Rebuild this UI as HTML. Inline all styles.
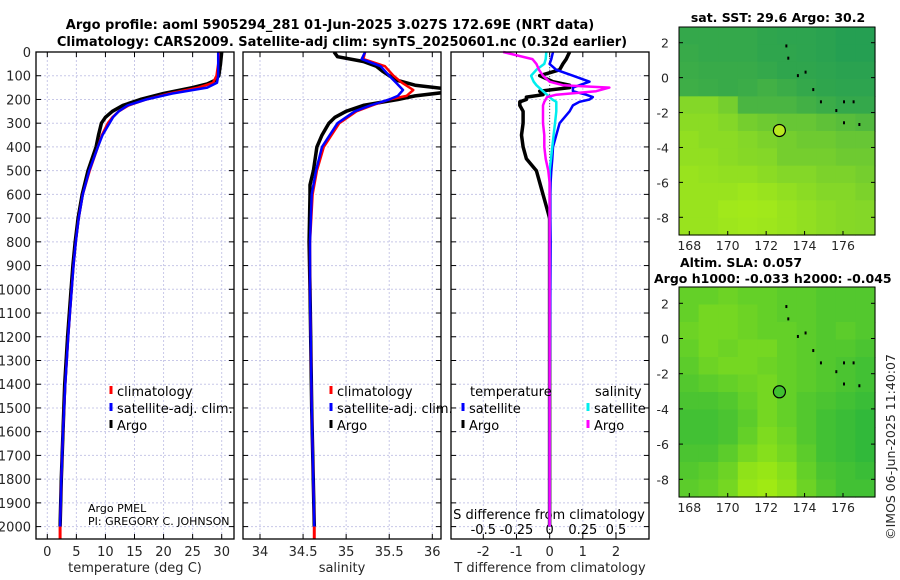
<!DOCTYPE html>
<html><head><meta charset="utf-8"><style>
html,body{margin:0;padding:0;background:#fff}
svg{display:block;font-family:"DejaVu Sans","Liberation Sans",sans-serif}
</style></head><body>
<svg id="c" width="900" height="580" viewBox="0 0 900 580" xmlns="http://www.w3.org/2000/svg">
<text x="330" y="29" text-anchor="middle" font-size="13" font-weight="bold">Argo profile: aoml 5905294_281 01-Jun-2025 3.027S 172.69E (NRT data)</text>
<text x="342" y="46" text-anchor="middle" font-size="13" font-weight="bold">Climatology: CARS2009. Satellite-adj clim: synTS_20250601.nc (0.32d earlier)</text>
<g id="g"></g>
</svg>
<script>
// ---- data ----
const depthTicks=[0,100,200,300,400,500,600,700,800,900,1000,1100,1200,1300,1400,1500,1600,1700,1800,1900,2000];
const tTicks=[0,5,10,15,20,25,30];
const sTicks=[34,34.5,35,35.5,36];
const dTTicks=[-2,-1,0,1,2];
const dTLabels=["-2","-1","0","1","2"];
const dSLabels=["-0.5","-0.25","0","0.25","0.5"];
const argoTDepth=[0,50,100,120,135,150,175,200,225,250,275,300,350,400,500,600,700,800,900,1000,1200,1400,1600,1800,2000];
const argoT=[30,29.8,29.5,28.8,27.5,25,20,16,13,11.2,10,9.3,8.8,8.4,7,6,5.3,4.8,4.4,4.1,3.5,3.0,2.7,2.4,2.2];
const climTDepth=[0,50,100,130,150,175,200,225,250,275,300,350,400,500,600,700,800,900,1000,1200,1400,1600,1800,2000];
const climT=[29.5,29.4,29.1,28.5,26,21,17,14,12.3,11.2,10.4,9.4,8.7,7.3,6.1,5.4,4.9,4.5,4.2,3.6,3.1,2.7,2.4,2.2];
const satT=[29.4,29.4,29.4,29.2,27.5,21.5,17,13.8,12.3,11.3,10.7,9.5,8.7,7.2,6.1,5.4,4.9,4.5,4.2,3.6,3.1,2.7,2.4,2.2];
const argoSDepth=[0,20,40,60,80,100,120,140,155,170,185,200,225,250,275,300,350,400,500,560,600,800,1000,1500,2000];
const argoS=[34.86,34.9,35.2,35.35,35.42,35.5,35.6,35.8,36.15,36.15,35.8,35.6,35.2,35.0,34.87,34.8,34.72,34.66,34.62,34.58,34.58,34.57,34.58,34.6,34.63];
const climSDepth=[0,30,60,100,130,160,185,200,225,250,300,400,500,600,800,1000,1500,2000];
const climS=[35.22,35.2,35.45,35.55,35.65,35.78,35.7,35.5,35.3,35.12,34.92,34.74,34.66,34.61,34.58,34.58,34.6,34.63];
const satS=[35.22,35.18,35.4,35.5,35.58,35.66,35.6,35.5,35.28,35.1,34.9,34.72,34.65,34.6,34.58,34.58,34.6,34.63];
const dDepth=[0,30,50,75,100,125,140,150,165,180,190,200,210,225,250,300,350,400,450,500,550,600,650,700,800,1000,1500,2000];
const dTSat=[0.1,0.05,0,0.2,0.7,1.2,0.9,0.7,0.7,1.1,1.3,1.2,0.9,0.7,0.6,0.3,0.2,0.1,0.08,0.05,0.03,0.02,0.02,0.02,0.03,0.02,0,0];
const dTArgo=[0.6,0.5,0.4,0.3,-0.3,0.1,0.6,0.6,-0.3,-0.2,-0.7,-0.7,-0.9,-0.9,-0.8,-0.8,-0.85,-0.8,-0.7,-0.4,-0.3,-0.2,-0.1,0,0,0,0,0];
const dSSat=[-0.025,-0.03,-0.04,-0.1,-0.14,-0.12,-0.1,-0.08,-0.05,-0.02,0,0.02,0.05,0.05,0.05,0.04,0.03,0.02,0.01,0,0,0,0,0,0,0,0,0];
const dSArgo=[-0.35,-0.13,-0.1,-0.08,-0.05,0,0.1,0.45,0.35,0.05,-0.02,-0.03,-0.04,-0.05,-0.05,-0.05,-0.04,-0.04,-0.03,-0.01,0,0,0,0,0,0,0,0];
const lonTicks=[168,170,172,174,176];
const latTicks=[2,0,-2,-4,-6,-8];
const sstGrid=[
[0.15,0.15,0.15,0.15,0.12,0.1,0.1,0.08,0.05,0.05],
[0.18,0.15,0.15,0.15,0.12,0.12,0.1,0.08,0.05,0.05],
[0.2,0.18,0.18,0.18,0.15,0.12,0.12,0.1,0.08,0.08],
[0.22,0.2,0.18,0.2,0.25,0.2,0.15,0.12,0.1,0.1],
[0.7,0.7,0.6,0.3,0.3,0.3,0.25,0.2,0.15,0.15],
[0.75,0.75,0.7,0.6,0.55,0.5,0.5,0.45,0.4,0.35],
[0.8,0.75,0.75,0.7,0.65,0.6,0.55,0.55,0.5,0.5],
[0.8,0.8,0.75,0.72,0.7,0.6,0.6,0.6,0.55,0.55],
[0.85,0.82,0.8,0.8,0.75,0.7,0.7,0.65,0.65,0.6],
[0.85,0.85,0.85,0.88,0.85,0.8,0.75,0.7,0.7,0.65],
[0.85,0.85,0.9,0.92,0.9,0.85,0.8,0.75,0.72,0.7],
[0.85,0.85,0.88,0.9,0.88,0.85,0.8,0.75,0.72,0.7]];
const slaGrid=[
[0.5,0.5,0.55,0.5,0.5,0.45,0.45,0.4,0.4,0.4],
[0.5,0.6,0.6,0.55,0.5,0.45,0.45,0.4,0.4,0.4],
[0.55,0.6,0.6,0.55,0.5,0.5,0.45,0.4,0.45,0.4],
[0.5,0.6,0.55,0.6,0.6,0.5,0.45,0.4,0.4,0.35],
[0.45,0.55,0.6,0.6,0.55,0.5,0.45,0.4,0.35,0.3],
[0.4,0.45,0.5,0.55,0.6,0.5,0.45,0.4,0.35,0.3],
[0.35,0.35,0.4,0.5,0.6,0.5,0.4,0.35,0.3,0.25],
[0.3,0.3,0.35,0.45,0.6,0.5,0.4,0.3,0.25,0.2],
[0.3,0.3,0.35,0.5,0.65,0.55,0.4,0.3,0.25,0.2],
[0.35,0.35,0.45,0.6,0.7,0.6,0.45,0.3,0.25,0.2],
[0.4,0.45,0.55,0.75,0.8,0.7,0.5,0.35,0.3,0.25],
[0.45,0.5,0.6,0.8,0.85,0.75,0.55,0.4,0.3,0.3]];
const argoLon=172.69, argoLat=-3.027;

// ---- drawing ----
const NS="http://www.w3.org/2000/svg";
const G=document.getElementById('g');
function mk(tag,attrs,parent){const e=document.createElementNS(NS,tag);for(const k in attrs)e.setAttribute(k,attrs[k]);(parent||G).appendChild(e);return e;}
function txt(s,x,y,attrs,parent){const e=mk('text',Object.assign({x:x,y:y,'font-size':13},attrs||{}),parent);e.textContent=s;return e;}
const TOP=52, BOT=539;
const yD=d=>52+d*0.2373;
function lin(d0,d1,p0,p1){return v=>p0+(v-d0)*(p1-p0)/(d1-d0);}
const xT=lin(0,30,47.3,221.7);
const xS=lin(34,36,260,432.3);
const xDT=lin(-2,2,483.3,616);
const xDS=v=>xDT(v*4);
const panels=[{x0:36,x1:234,name:'temperature-panel'},{x0:243,x1:441,name:'salinity-panel'},{x0:451,x1:649,name:'difference-panel'}];
const vgrid=[tTicks.map(xT),sTicks.map(xS),dTTicks.map(xDT)];
panels.forEach((p,i)=>{
  const g=mk('g',{});
  
  
  depthTicks.forEach(d=>{mk('line',{x1:p.x0,x2:p.x1,y1:yD(d),y2:yD(d),stroke:'#c8c8e8','stroke-width':1,'stroke-dasharray':'2,2'},g);});
  vgrid[i].forEach(x=>{mk('line',{x1:x,x2:x,y1:TOP,y2:BOT,stroke:'#c8c8e8','stroke-width':1,'stroke-dasharray':'2,2'},g);});
  depthTicks.forEach(d=>{mk('line',{x1:p.x0,x2:p.x0+5,y1:yD(d),y2:yD(d),stroke:'#000'},g);mk('line',{x1:p.x1-5,x2:p.x1,y1:yD(d),y2:yD(d),stroke:'#000'},g);});
  vgrid[i].forEach(x=>{mk('line',{x1:x,x2:x,y1:BOT,y2:BOT-5,stroke:'#000'},g);mk('line',{x1:x,x2:x,y1:TOP,y2:TOP+5,stroke:'#000'},g);});
});
depthTicks.forEach(d=>{const t=txt(String(d),31,yD(d)+5,{'text-anchor':'end','fill':'#262626'});});
tTicks.forEach(v=>{const t=txt(String(v),xT(v),556,{'text-anchor':'middle','fill':'#262626'});});
sTicks.forEach(v=>{const t=txt(String(v),xS(v),556,{'text-anchor':'middle','fill':'#262626'});});
dTTicks.forEach((v,i)=>{const t=txt(dTLabels[i],xDT(v),556,{'text-anchor':'middle','fill':'#262626'});});
dTTicks.forEach((v,i)=>{const t=txt(dSLabels[i],xDT(v),534,{'text-anchor':'middle','fill':'#000'});});
let t;
t=txt('temperature (deg C)',135,572,{'text-anchor':'middle','fill':'#262626'});
t=txt('salinity',342,572,{'text-anchor':'middle','fill':'#262626'});
t=txt('T difference from climatology',550,572,{'text-anchor':'middle','fill':'#262626'});
t=txt('S difference from climatology',549,519,{'text-anchor':'middle'});
mk('line',{x1:xDT(0),x2:xDT(0),y1:TOP,y2:BOT,stroke:'#555','stroke-dasharray':'1,2'});
function line(xs,ds,xf,col,w,name){const p=mk('polyline',{points:xs.map((v,i)=>xf(v).toFixed(1)+','+yD(ds[i]).toFixed(1)).join(' '),fill:'none',stroke:col,'stroke-width':w,'stroke-linejoin':'round'});return p;}
const cp=mk('clipPath',{id:'cs'});mk('rect',{x:243,y:52,width:198,height:487},cp);
line(argoT,argoTDepth,xT,'#000',3.5,'temperature-argo-line');
line(climT,climTDepth,xT,'#f00',2.5,'temperature-climatology-line');
line(satT,climTDepth,xT,'#00f',2.5,'temperature-satellite-line');
line(argoS,argoSDepth,xS,'#000',3.5,'salinity-argo-line').setAttribute('clip-path','url(#cs)');
line(climS,climSDepth,xS,'#f00',2.5,'salinity-climatology-line');
line(satS,climSDepth,xS,'#00f',2.5,'salinity-satellite-line');
line(dTArgo,dDepth,xDT,'#000',3.5,'t-diff-argo-line');
line(dTSat,dDepth,xDT,'#00f',2.5,'t-diff-satellite-line');
line(dSSat,dDepth,xDS,'#0ee',2.5,'s-diff-satellite-line');
line(dSArgo,dDepth,xDS,'#f0f',2.5,'s-diff-argo-line');
mk('line',{x1:xT(2.2),x2:xT(2.2),y1:yD(2000),y2:BOT,stroke:'#f00','stroke-width':3});
mk('line',{x1:xS(34.63),x2:xS(34.63),y1:yD(2000),y2:BOT,stroke:'#f00','stroke-width':3});
panels.forEach(p=>{mk('rect',{x:p.x0,y:TOP,width:p.x1-p.x0,height:BOT-TOP,fill:'none',stroke:'#000','stroke-width':1.3});});
function leg(x,y,col,label,name){mk('line',{x1:x,x2:x,y1:y-10,y2:y-2,stroke:col,'stroke-width':3});const t=txt(label,x+6,y,{});}
[[111,'temperature-legend'],[331,'salinity-legend']].forEach(([x,n])=>{
leg(x,396,'#f00','climatology',n+'-climatology');leg(x,413,'#00f','satellite-adj. clim.',n+'-satellite');leg(x,430,'#000','Argo',n+'-argo');});
t=txt('temperature',470,396,{});
t=txt('salinity',595,396,{});
leg(463,413,'#00f','satellite','diff-legend-t-satellite');leg(463,430,'#000','Argo','diff-legend-t-argo');
leg(588,413,'#0ee','satellite','diff-legend-s-satellite');leg(588,430,'#f0f','Argo','diff-legend-s-argo');
t=txt('Argo PMEL',88,512,{'font-size':11});
t=txt('PI: GREGORY C. JOHNSON',88,525,{'font-size':11});
function col(v,kind){
  let a,b;
  if(kind==='sst'){a=[30,155,85];b=[175,240,20];}else{a=[15,170,70];b=[185,245,10];}
  const c=a.map((x,i)=>Math.round(x+(b[i]-x)*v));return 'rgb('+c.join(',')+')';}
function map(y0,y1,grid,kind,name,latTop,latBot){
  const x0=679,x1=875;
  const xL=lin(168,176,689.3,843),yL=lin(2,-8,latTop,latBot);
  const g=mk('g',{});
  const rows=grid.length,cols=grid[0].length,cw=(x1-x0)/cols,ch=(y1-y0)/rows;
  grid.forEach((r,i)=>r.forEach((v,j)=>{const c=mk('rect',{x:x0+j*cw,y:y0+i*ch,width:cw+0.6,height:ch+0.6,fill:col(v,kind)},g);
    }));
  [[173,1.9],[173.1,1.2],[173.6,0.2],[174,0.4],[174.4,-0.6],[174.8,-1.3],[175.6,-1.8],[176,-1.3],[176.5,-1.3],[176,-2.5],[176.8,-2.6]].forEach(([lo,la])=>mk('rect',{x:xL(lo),y:yL(la),width:2,height:3,fill:'#000'},g));
  mk('circle',{cx:xL(argoLon),cy:yL(argoLat),r:6,fill:kind==='sst'?'#b8e820':'#40c030',stroke:'#000','stroke-width':1.2},g);
  mk('rect',{x:x0,y:y0,width:x1-x0,height:y1-y0,fill:'none',stroke:'#000'},g);
  lonTicks.forEach(v=>{mk('line',{x1:xL(v),x2:xL(v),y1:y1,y2:y1-4,stroke:'#000'},g);const t=txt(String(v),xL(v),y1+15,{'text-anchor':'middle','fill':'#262626','font-size':12.5});});
  latTicks.forEach(v=>{mk('line',{x1:x0,x2:x0+4,y1:yL(v),y2:yL(v),stroke:'#000'},g);mk('line',{x1:x1,x2:x1-4,y1:yL(v),y2:yL(v),stroke:'#000'},g);const t=txt(String(v),x0-10,yL(v)+5,{'text-anchor':'end','fill':'#262626','font-size':12.5});});
}
map(27,235,sstGrid,'sst','sst-map',42.7,217.3);
map(287,497,slaGrid,'sla','sla-map',303.3,479.3);
t=txt('sat. SST: 29.6 Argo: 30.2',778,22,{'text-anchor':'middle','font-weight':'bold','font-size':12.5});
t=txt('Altim. SLA: 0.057',680,267,{'font-weight':'bold','font-size':12.5});
t=txt('Argo h1000: -0.033 h2000: -0.045',654,283,{'font-weight':'bold','font-size':12.5});
t=txt('©IMOS 06-Jun-2025 11:40:07',0,0,{'text-anchor':'middle','fill':'#262626','font-size':12.5,transform:'translate(895,447) rotate(-90)'});
</script>
</body></html>
